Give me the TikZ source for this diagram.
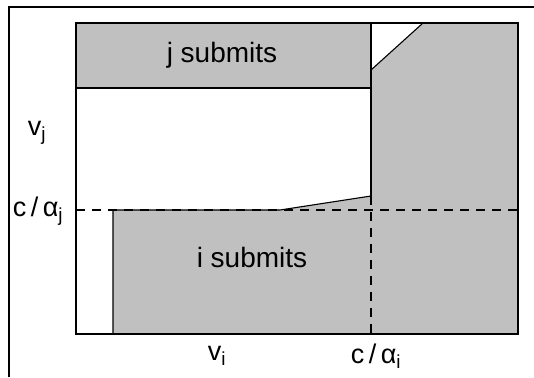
\documentclass[tikz,border=0pt]{standalone}
\usepackage{fontspec}
\setmainfont{Liberation Sans}
\begin{document}
\begin{tikzpicture}[x=1pt,y=-1pt,line width=1.1pt,
  region/.style={fill=shade},
  guide/.style={dash pattern=on 9pt off 7pt},
  lbl/.style={inner sep=0pt,font=\fontsize{28}{31}\selectfont},
  axlbl/.style={inner sep=0pt,font=\fontsize{27}{30}\selectfont}]
\definecolor{shade}{HTML}{C0C0C0}
\useasboundingbox (0,0) rectangle (534,377);

% corner points of the plot
\coordinate (tl) at (76,23);
\coordinate (br) at (518,334);
\coordinate (jbl) at (76,88);
\coordinate (jtr) at (371,23);
\coordinate (jbr) at (371,88);
\coordinate (kink) at (371,70);
\coordinate (diagtop) at (423,23);
\coordinate (tr) at (518,23);
\coordinate (ibl) at (113,334);
\coordinate (itl) at (113,210);
\coordinate (flat) at (280,210);
\coordinate (step) at (371,196);
\coordinate (axi) at (371,334);
\coordinate (ajl) at (76,210);
\coordinate (ajr) at (518,210);

% outer frame
\draw (9,377) -- (9,7) -- (534,7);

% shaded regions
\fill[region] (tl) rectangle (jbr);
\fill[region] (ibl) -- (itl) -- (flat) -- (step) -- (kink) -- (diagtop) -- (tr) -- (br) -- cycle;

% outlines
\draw (tl) rectangle (br);
\draw (jbl) -- (jbr);
\draw (jtr) -- (step);
\draw (kink) -- (diagtop);
\draw (ibl) -- (itl) -- (flat) -- (step);

% threshold guides
\draw[guide] (ajl) -- (ajr);
\draw[guide] (step) -- (axi);

% labels
\node[lbl] (js) at (222,55) {j submits};
\node[lbl] (is) at (252,257) {i submits};
\node[axlbl] (vj) at (37,133) {v\textsubscript{j}};
\node[axlbl] (caj) at (38,211) {c\,/\,α\textsubscript{j}};
\node[axlbl] (vi) at (217,356) {v\textsubscript{i}};
\node[axlbl] (cai) at (376,356) {c\,/\,α\textsubscript{i}};
\end{tikzpicture}
\end{document}
